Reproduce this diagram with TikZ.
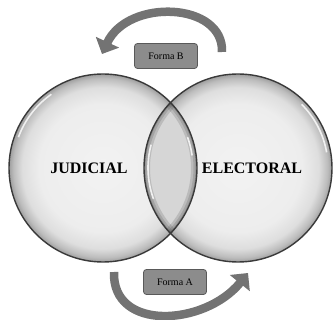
\documentclass[tikz,border=0pt]{standalone}
\usepackage{fontspec}
\setmainfont{Liberation Serif}
\usetikzlibrary{arrows.meta}

\definecolor{rimgray}{HTML}{3A3A3A}
\definecolor{boxgray}{HTML}{8C8C8C}
\definecolor{flowgray}{HTML}{737373}

\pgfdeclareradialshading{bubble}{\pgfpointorigin}{%
  color(0bp)=(white!95!black); color(17bp)=(white!93!black);
  color(21.5bp)=(white!87!black); color(23.8bp)=(white!74!black);
  color(25bp)=(white!62!black); color(50bp)=(white!62!black)}

\begin{document}
\begin{tikzpicture}[x=1pt,y=-1pt,
    rim/.style={draw=rimgray,line width=1.4pt},
    gloss/.style={white,line width=1.6pt,opacity=0.8},
    label/.style={font=\bfseries\fontsize{16}{16}\selectfont},
    forma/.style={draw=black!65,fill=boxgray,rounded corners=3pt,line width=0.8pt,
        minimum width=63pt,minimum height=25pt,inner sep=0pt,font=\fontsize{10}{10}\selectfont},
    flow/.style={flowgray,line width=8.5pt,-{Triangle[width=25pt,length=13pt]}}]

\useasboundingbox (0,0) rectangle (333,320);

% Circles
\coordinate (L) at (103,168);
\coordinate (R) at (238,168);
\shade[shading=bubble] (L) circle[radius=94];
\shade[shading=bubble] (R) circle[radius=94];

% Overlap
\begin{scope}
  \clip (L) circle[radius=94];
  \clip (R) circle[radius=94];
  \fill[white!84!black] (L) circle[radius=94];
  \foreach \w in {3,7,12}{
    \draw[black,opacity=0.12,line width=\w pt] (L) circle[radius=94];
    \draw[black,opacity=0.12,line width=\w pt] (R) circle[radius=94];
  }
  \draw[gloss] (R) ++(160:90) arc[start angle=160,end angle=195,radius=90];
  \draw[gloss] (L) ++(-20:90) arc[start angle=-20,end angle=-8,radius=90];
\end{scope}

% Gloss
\draw[gloss] (L) ++(200:90) arc[start angle=200,end angle=235,radius=90];
\draw[gloss] (R) ++(-10:90) arc[start angle=-10,end angle=-45,radius=90];

% Outlines
\draw[rim] (L) circle[radius=94];
\draw[rim] (R) circle[radius=94];

% Labels
\node[label] (judicial) at (89,168) {JUDICIAL};
\node[label] (electoral) at (252,168) {ELECTORAL};

% Arrows
\coordinate (bTail) at (222,52);
\coordinate (bTip) at (102,54);
\draw[flow] (bTail) .. controls (224,2) and (128,-2) .. (bTip);

\coordinate (aTail) at (114,272);
\coordinate (aTip) at (248,273);
\draw[flow] (aTail) .. controls (112,332) and (205,326) .. (aTip);

% Boxes
\node[forma] (formaB) at (166,56) {Forma B};
\node[forma] (formaA) at (175,282) {Forma A};

\end{tikzpicture}
\end{document}
